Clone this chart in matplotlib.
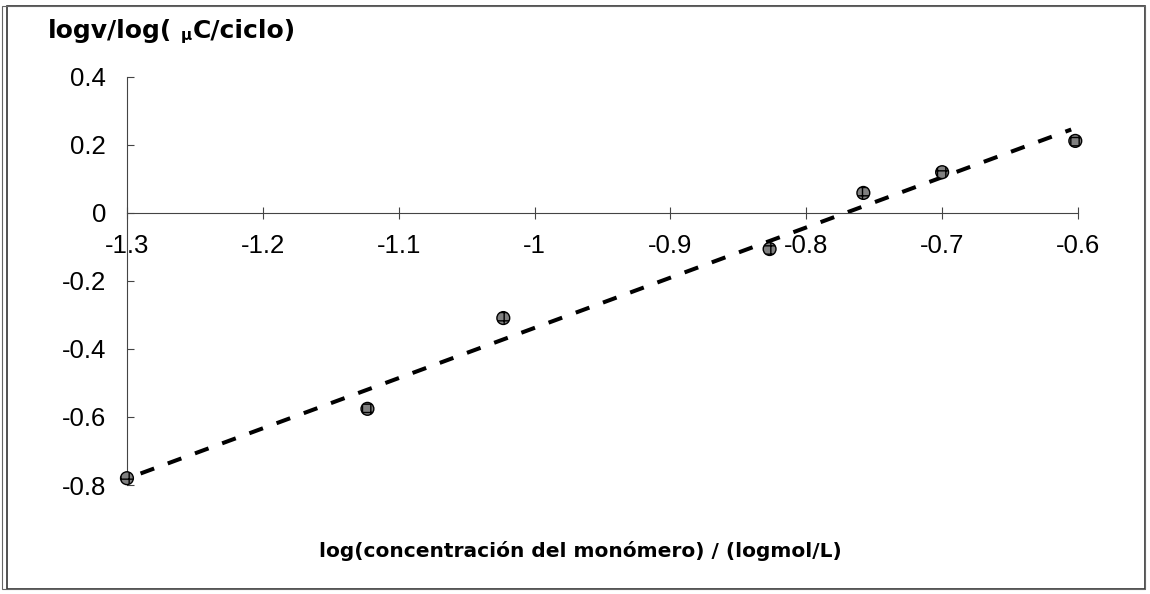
import numpy as np
import matplotlib
matplotlib.use("Agg")
import matplotlib.pyplot as plt
from matplotlib.ticker import FuncFormatter
from matplotlib.patches import Rectangle

plt.rcParams['font.family'] = ['Liberation Sans', 'DejaVu Sans']
plt.rcParams['axes.unicode_minus'] = False

# log[monomer] vs log(v)
log_conc = [-1.300, -1.123, -1.023, -0.827, -0.758, -0.700, -0.602]
log_v    = [-0.780, -0.576, -0.309, -0.106,  0.059,  0.120,  0.212]

x_ticks = [-1.3, -1.2, -1.1, -1.0, -0.9, -0.8, -0.7, -0.6]
y_ticks = [-0.8, -0.6, -0.4, -0.2, 0.0, 0.2, 0.4]

# linear trend line
slope, icpt = np.polyfit(log_conc, log_v, 1)
xt = np.array([-1.29, -0.605])

fig = plt.figure(figsize=(11.5, 5.94), dpi=100)
ax = fig.add_axes([0.1104, 0.1835, 0.8270, 0.6869])

ax.plot(xt, slope * xt + icpt, color="black", lw=2.9, ls=(0, (3.6, 3.6)), zorder=2)
ax.scatter(log_conc, log_v, s=85, facecolor="#808080", edgecolor="black",
           linewidth=1.0, hatch="++", zorder=3, clip_on=False)

ax.set_xlim(-1.3, -0.6)
ax.set_ylim(-0.8, 0.4)
ax.set_xticks(x_ticks)
ax.set_yticks(y_ticks)
fmt = FuncFormatter(lambda v, p: f"{v:g}")
ax.xaxis.set_major_formatter(fmt)
ax.yaxis.set_major_formatter(fmt)

ax.spines['top'].set_visible(False)
ax.spines['right'].set_visible(False)
ax.spines['bottom'].set_position(('data', 0))
for s in ('left', 'bottom'):
    ax.spines[s].set_color("#444444")
    ax.spines[s].set_linewidth(0.8)

ax.tick_params(axis='x', direction='inout', length=8, width=0.8, color="#444444",
               labelsize=18.5, pad=11)
ax.tick_params(axis='y', direction='in', length=5, width=0.8, color="#444444",
               labelsize=18.5, pad=15)

# y-axis title, with a small mu
bold = dict(fontweight='bold', va='center', ha='left', family='DejaVu Sans')
fig.text(0.042, 0.948, "logv/log(", fontsize=18, **bold)
fig.text(0.157, 0.940, "\u03bc", fontsize=11, **bold)
fig.text(0.168, 0.948, "C/ciclo)", fontsize=18, **bold)

fig.text(0.505, 0.073, "log(concentración del monómero) / (logmol/L)", fontsize=14.5,
         fontweight='bold', va='center', ha='center', family='DejaVu Sans')

# outer chart frame
fig.patches.append(Rectangle((0.006, 0.008), 0.990, 0.982, transform=fig.transFigure,
                             fill=False, edgecolor="#333333", lw=1.2))
fig.patches.append(Rectangle((0.002, 0.008), 0.994, 0.982, transform=fig.transFigure,
                             fill=False, edgecolor="#666666", lw=0.8))

fig.savefig("out.png", dpi=100)
